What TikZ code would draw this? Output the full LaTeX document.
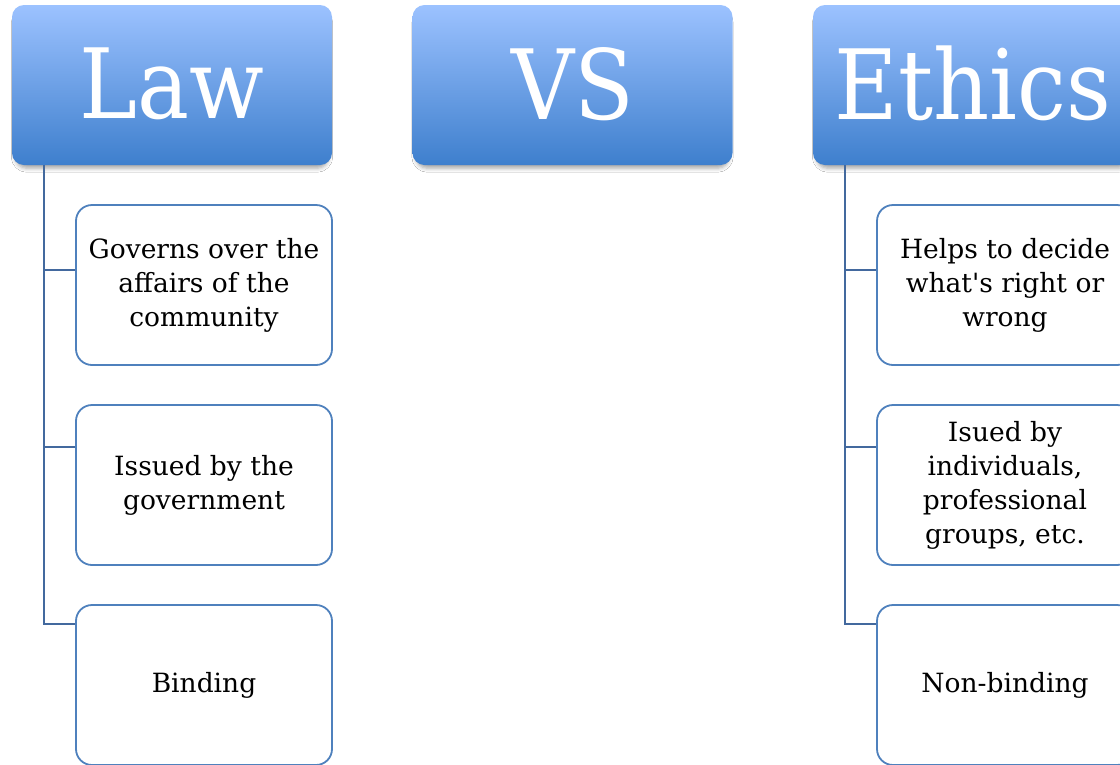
\documentclass[tikz,border=0pt]{standalone}
\usepackage{fontspec}
\setmainfont{DejaVu Serif}
\usetikzlibrary{calc,shadows.blur}
\definecolor{hdtop}{HTML}{9CC2FF}
\definecolor{hdbot}{HTML}{3E7FCD}
\definecolor{boxline}{HTML}{4F81BD}
\definecolor{connline}{HTML}{43699E}
\newcommand{\hdtext}[1]{\raisebox{4pt}{\scalebox{0.9}[1]{#1}}}
\tikzset{
  headbox/.style={rounded corners=12pt, minimum width=320pt, minimum height=160pt,
    shade, top color=hdtop, bottom color=hdbot, draw=none, text=white,
    font=\fontsize{97}{100}\selectfont, inner sep=0pt,
    blur shadow={shadow xshift=0pt, shadow yshift=-5pt, shadow scale=0.98, shadow blur radius=4pt, shadow opacity=35}},
  itembox/.style={rounded corners=16pt, minimum width=256pt, minimum height=160pt,
    draw=boxline, line width=1.8pt, fill=white, align=center, text=black,
    font=\fontsize{26.5}{34}\selectfont, inner sep=0pt},
  conn/.style={draw=connline, line width=1.8pt}
}
\begin{document}
\begin{tikzpicture}[x=1pt,y=-1pt]
\useasboundingbox (0,0) rectangle (1120,764);
\clip (0,0) rectangle (1120,764);
\fill[white] (0,0) rectangle (1120,764);
% headers
\node[headbox] (law) at (172,85) {\hdtext{Law}};
\node[headbox] (vs) at (572.5,85) {\hdtext{VS}};
\node[headbox] (eth) at (973,85) {\hdtext{Ethics}};
% law items
\node[itembox] (l1) at (204,285) {Governs over the\\affairs of the\\community};
\node[itembox] (l2) at (204,485) {Issued by the\\government};
\node[itembox] (l3) at (204,685) {Binding};
% ethics items
\node[itembox] (e1) at (1005,285) {Helps to decide\\what\textquotesingle s right or\\wrong};
\node[itembox] (e2) at (1005,485) {Isued by\\individuals,\\professional\\groups, etc.};
\node[itembox] (e3) at (1005,685) {Non-binding};
% connectors
\coordinate (ls) at ($(law.south west)+(32,0)$);
\coordinate (es) at ($(eth.south west)+(32,0)$);
\draw[conn] (ls) |- ($(l3.west)+(0,-61)$);
\draw[conn] (ls) |- ($(l1.west)+(0,-15)$);
\draw[conn] (ls) |- ($(l2.west)+(0,-38)$);
\draw[conn] (es) |- ($(e3.west)+(0,-61)$);
\draw[conn] (es) |- ($(e1.west)+(0,-15)$);
\draw[conn] (es) |- ($(e2.west)+(0,-38)$);
\end{tikzpicture}
\end{document}
